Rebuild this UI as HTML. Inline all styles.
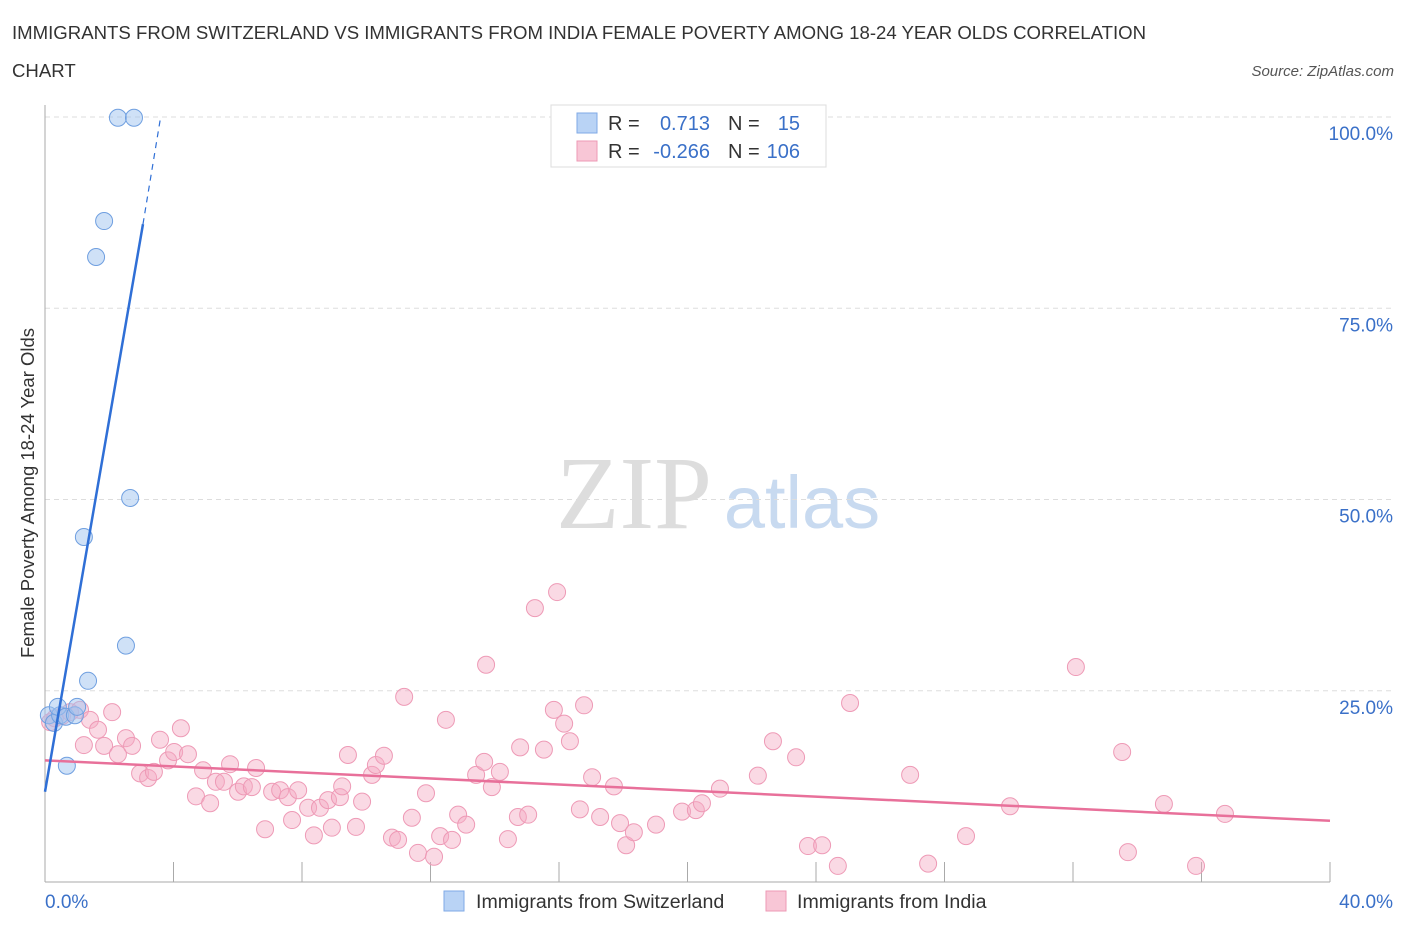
<!DOCTYPE html>
<html><head><meta charset="utf-8"><style>
body{margin:0;background:#fff;font-family:"Liberation Sans",sans-serif;}
svg{display:block}
</style></head><body>
<svg id="chart" width="1406" height="930" font-family="Liberation Sans, sans-serif">
<text x="12" y="39" font-size="18.6" fill="#333">IMMIGRANTS FROM SWITZERLAND VS IMMIGRANTS FROM INDIA FEMALE POVERTY AMONG 18-24 YEAR OLDS CORRELATION</text>
<text x="12" y="77" font-size="18.6" fill="#333">CHART</text>
<text x="1394" y="76" font-size="15" font-style="italic" fill="#555" text-anchor="end">Source: ZipAtlas.com</text>
<text x="634" y="528" font-size="104" font-family="Liberation Serif, serif" fill="#ddd" text-anchor="middle">ZIP</text>
<text x="802" y="528" font-size="74" fill="#c8daf0" text-anchor="middle">atlas</text>
<g id="grid"></g>
<g id="axes"></g>
<g id="marks"></g>
<text transform="translate(34,493) rotate(-90)" font-size="18.5" fill="#333" text-anchor="middle">Female Poverty Among 18-24 Year Olds</text>
<g>
<rect x="551" y="105" width="275" height="62" fill="#fff" stroke="#ddd"/>
<rect x="577" y="113" width="20" height="20" fill="#b9d3f5" stroke="#7fa9e6"/>
<rect x="577" y="141" width="20" height="20" fill="#f8c6d6" stroke="#ee99b5"/>
<text x="608" y="130" font-size="20" fill="#333">R =</text>
<text x="710" y="130" font-size="20" fill="#3a70c8" text-anchor="end">0.713</text>
<text x="728" y="130" font-size="20" fill="#333">N =</text>
<text x="800" y="130" font-size="20" fill="#3a70c8" text-anchor="end">15</text>
<text x="608" y="158" font-size="20" fill="#333">R =</text>
<text x="710" y="158" font-size="20" fill="#3a70c8" text-anchor="end">-0.266</text>
<text x="728" y="158" font-size="20" fill="#333">N =</text>
<text x="800" y="158" font-size="20" fill="#3a70c8" text-anchor="end">106</text>
</g>
<g>
<rect x="444" y="891" width="20" height="20" fill="#b9d3f5" stroke="#7fa9e6"/>
<text x="476" y="908" font-size="19.6" fill="#333">Immigrants from Switzerland</text>
<rect x="766" y="891" width="20" height="20" fill="#f8c6d6" stroke="#ee99b5"/>
<text x="797" y="908" font-size="19.6" fill="#333">Immigrants from India</text>
</g>
</svg>
<script>
const yTicks=[25,50,75,100];
const yTickLabels=["25.0%","50.0%","75.0%","100.0%"];
const xTickLabels=["0.0%","40.0%"];
const blueX=[0.12,0.28,0.47,0.40,0.65,0.93,1.00,0.68,1.21,1.34,1.59,1.84,2.27,2.77,2.52,2.65];
const blueY=[21.8,20.8,21.8,22.9,21.6,21.8,22.9,15.2,45.1,26.3,81.7,86.4,99.9,99.9,30.9,50.2];
const pinkPx=[[50,722],[55,718],[62,716],[70,712],[80,710],[84,745],[90,720],[98,730],[104,746],[112,712],[118,754],[126,738],[132,746],[140,773],[148,778],[154,772],[160,740],[168,760],[174,752],[181,728],[188,754],[196,796],[203,770],[210,803],[216,782],[224,782],[230,764],[238,792],[244,786],[256,768],[252,787],[265,829],[272,792],[280,790],[288,797],[292,820],[298,790],[308,808],[314,835],[320,808],[328,800],[332,828],[340,797],[342,786],[348,755],[356,827],[362,802],[372,775],[376,765],[384,756],[392,838],[398,840],[404,697],[412,818],[418,853],[426,793],[434,857],[440,836],[446,720],[452,840],[458,815],[466,825],[476,775],[484,762],[486,665],[492,787],[500,772],[508,839],[518,817],[520,747],[528,815],[535,608],[544,750],[554,710],[557,592],[564,724],[570,741],[580,809],[584,705],[592,777],[600,817],[614,786],[620,823],[626,845],[634,832],[656,825],[682,812],[696,810],[702,803],[720,789],[758,776],[773,741],[796,757],[808,846],[822,845],[838,866],[850,703],[910,775],[928,864],[966,836],[1010,806],[1076,667],[1122,752],[1128,852],[1164,804],[1196,866],[1225,814]];
const pinkX=pinkPx.map(p=>+((p[0]-45)/32.125).toFixed(2));
const pinkY=pinkPx.map(p=>+((882-p[1])/7.65).toFixed(1));
const blueFit=[[0,11.8],[3.05,86.0],[3.6,100]];
const pinkFit=[[0,15.9],[40,8.0]];
const X=v=>45+v*32.125, Y=v=>882-v*7.65;
const NS="http://www.w3.org/2000/svg";
function mk(t,a,parent){const e=document.createElementNS(NS,t);for(const k in a)e.setAttribute(k,a[k]);document.getElementById(parent).appendChild(e);return e;}
yTicks.forEach((t,i)=>{
 const l=mk('line',{x1:45,x2:1394,y1:Y(t),y2:Y(t),stroke:'#ddd','stroke-dasharray':'5,4'},'grid');
 
 
 const tx=mk('text',{x:1393,y:Y(t)+23,'font-size':19,fill:'#3a70c8','text-anchor':'end'},'axes');
 tx.textContent=yTickLabels[i];
 
 
});
const ax=mk('line',{x1:45,x2:1330,y1:882,y2:882,stroke:'#aaa'},'axes');


const ay=mk('line',{x1:45,x2:45,y1:105,y2:882,stroke:'#aaa'},'axes');


for(let i=1;i<=10;i++){const t=mk('line',{x1:X(i*4),x2:X(i*4),y1:862,y2:882,stroke:'#aaa'},'axes');
 
 }
[[0,'start',45],[40,'end',1393]].forEach((d,i)=>{const t=mk('text',{x:d[2],y:908,'font-size':19,fill:'#3a70c8','text-anchor':d[1]},'axes');t.textContent=xTickLabels[i];
 
 });
pinkX.forEach((x,i)=>{const c=mk('circle',{cx:X(x),cy:Y(pinkY[i]),r:8.5,fill:'rgba(244,170,195,0.45)',stroke:'#ee9ab6','stroke-width':1},'marks');
 
 });
blueX.forEach((x,i)=>{const c=mk('circle',{cx:X(x),cy:Y(blueY[i]),r:8.5,fill:'rgba(160,195,240,0.5)',stroke:'#6f9fe0','stroke-width':1},'marks');
 
 });
const pl=mk('line',{x1:X(pinkFit[0][0]),y1:Y(pinkFit[0][1]),x2:X(pinkFit[1][0]),y2:Y(pinkFit[1][1]),stroke:'#e8709a','stroke-width':2.5},'marks');


const bl=mk('line',{x1:X(blueFit[0][0]),y1:Y(blueFit[0][1]),x2:X(blueFit[1][0]),y2:Y(blueFit[1][1]),stroke:'#2f6fd6','stroke-width':2.5},'marks');


const bd=mk('line',{x1:X(blueFit[1][0]),y1:Y(blueFit[1][1]),x2:X(blueFit[2][0]),y2:Y(blueFit[2][1]),stroke:'#2f6fd6','stroke-width':1.2,'stroke-dasharray':'6,5'},'marks');


</script>
</body></html>
